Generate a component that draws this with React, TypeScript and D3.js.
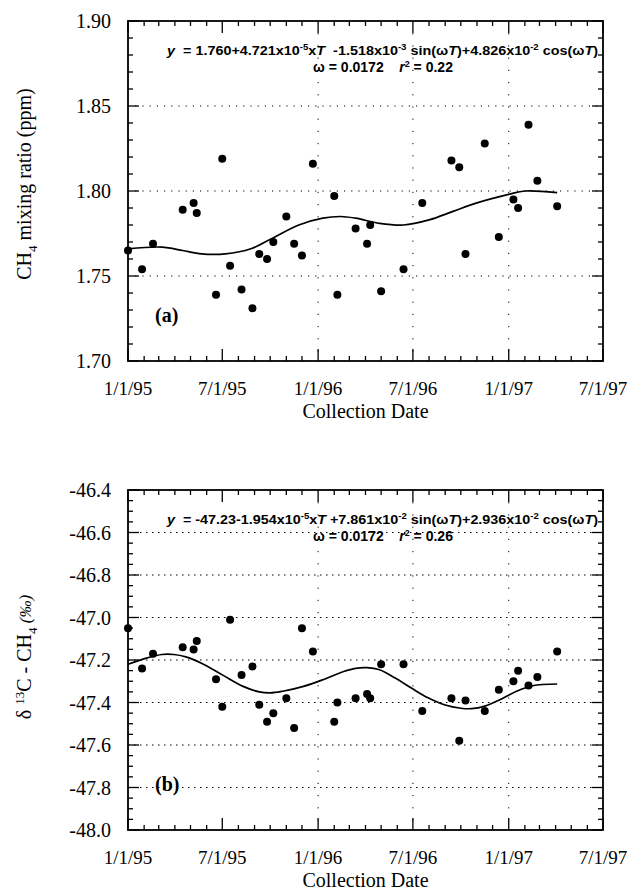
import React from "react";
import * as d3 from "d3";

const width = 634;
const height = 890;
const left = 128;
const right = 603;

// collection dates shared by both panels
const sampleDates = [
  "1995-01-01", "1995-01-28", "1995-02-18", "1995-04-16", "1995-05-07", "1995-05-13",
  "1995-06-19", "1995-07-01", "1995-07-16", "1995-08-07", "1995-08-28", "1995-09-10",
  "1995-09-25", "1995-10-07", "1995-11-01", "1995-11-16", "1995-12-01", "1995-12-22",
  "1996-02-01", "1996-02-07", "1996-03-13", "1996-04-04", "1996-04-10", "1996-05-01",
  "1996-06-13", "1996-07-19", "1996-09-13", "1996-09-28", "1996-10-10", "1996-11-16",
  "1996-12-13", "1997-01-10", "1997-01-19", "1997-02-08", "1997-02-25", "1997-04-04"
];

const ch4Values = [
  1.765, 1.754, 1.769, 1.789, 1.793, 1.787,
  1.739, 1.819, 1.756, 1.742, 1.731, 1.763,
  1.760, 1.770, 1.785, 1.769, 1.762, 1.816,
  1.797, 1.739, 1.778, 1.769, 1.780, 1.741,
  1.754, 1.793, 1.818, 1.814, 1.763, 1.828,
  1.773, 1.795, 1.790, 1.839, 1.806, 1.791
];

const d13cValues = [
  -47.05, -47.24, -47.17, -47.14, -47.15, -47.11,
  -47.29, -47.42, -47.01, -47.27, -47.23, -47.41,
  -47.49, -47.45, -47.38, -47.52, -47.05, -47.16,
  -47.49, -47.40, -47.38, -47.36, -47.38, -47.22,
  -47.22, -47.44, -47.38, -47.58, -47.39, -47.44,
  -47.34, -47.30, -47.25, -47.32, -47.28, -47.16
];

// fitted curves
const ch4FitDates = [
  "1995-01-01", "1995-03-07", "1995-04-16", "1995-05-22", "1995-07-07", "1995-08-25",
  "1995-10-10", "1995-11-25", "1996-01-10", "1996-02-13", "1996-03-13", "1996-04-28",
  "1996-06-13", "1996-08-01", "1996-09-16", "1996-11-01", "1997-01-01", "1997-02-01",
  "1997-04-04"
];
const ch4FitValues = [
  1.766, 1.767, 1.765, 1.763, 1.763, 1.766,
  1.773, 1.780, 1.784, 1.785, 1.784, 1.781,
  1.780, 1.783, 1.788, 1.793, 1.798, 1.800,
  1.799
];

const d13cFitDates = [
  "1995-01-01", "1995-02-07", "1995-03-07", "1995-03-30", "1995-04-22", "1995-05-22",
  "1995-07-01", "1995-08-10", "1995-09-10", "1995-10-01", "1995-10-25", "1995-12-04",
  "1996-01-10", "1996-02-19", "1996-03-13", "1996-04-04", "1996-04-28", "1996-05-28",
  "1996-06-28", "1996-07-30", "1996-09-01", "1996-10-01", "1996-10-22", "1996-11-16",
  "1996-12-16", "1997-01-16", "1997-02-16", "1997-04-04"
];
const d13cFitValues = [
  -47.22, -47.19, -47.174, -47.174, -47.185, -47.215,
  -47.27, -47.324, -47.35, -47.355, -47.347, -47.324,
  -47.293, -47.254, -47.239, -47.236, -47.246, -47.285,
  -47.332, -47.378, -47.412, -47.427, -47.429, -47.417,
  -47.386, -47.347, -47.321, -47.313
];

const xTickLabels = ["1/1/95", "7/1/95", "1/1/96", "7/1/96", "1/1/97", "7/1/97"];
const xGridLabels = ["1/1/96", "7/1/96", "1/1/97"];
const ch4Ticks = [1.7, 1.75, 1.8, 1.85, 1.9];
const ch4Grid = [1.75, 1.8, 1.85];
const d13cTicks = [-48.0, -47.8, -47.6, -47.4, -47.2, -47.0, -46.8, -46.6, -46.4];
const d13cGrid = [-47.8, -47.6, -47.4, -47.2, -47.0, -46.8, -46.6];

const parseDay = d3.timeParse("%Y-%m-%d");
const parseTick = d3.timeParse("%m/%d/%y");

const serif = "Liberation Serif, DejaVu Serif, Times New Roman, serif";
const sans = "Liberation Sans, Arial, sans-serif";

// d3.format gives a unicode minus; the figure uses a plain hyphen
const hyphenFmt = (spec) => {
  const f = d3.format(spec);
  return (v) => f(v).replace("\u2212", "-");
};

const x = d3.scaleTime()
  .domain([new Date(1995, 0, 1), new Date(1997, 6, 1)])
  .range([left, right]);

function Panel({ top, bottom, domain, ticks, minorCount, fmt, grid, vals, fitD, fitV, gridDash, eq1, eq2, tag, title }) {
  const y = d3.scaleLinear().domain(domain).range([bottom, top]);
  const minorY = y.ticks(minorCount);
  const minorX = d3.timeMonth.range(x.domain()[0], d3.timeDay.offset(x.domain()[1], 1));
  const majorX = xTickLabels.map(d => parseTick(d));
  const pts = sampleDates.map((d, i) => [parseDay(d), vals[i]]);
  const fit = fitD.map((d, i) => [parseDay(d), fitV[i]]);
  const line = d3.line().x(d => x(d[0])).y(d => y(d[1])).curve(d3.curveCatmullRom.alpha(0.5));

  return (
    <g>
      {/* dotted grid */}
      {grid.map(v => (
        <line key={"gy" + v} x1={left} x2={right} y1={y(v)} y2={y(v)}
          stroke="#000" strokeWidth={1} strokeDasharray={gridDash} />
      ))}
      {xGridLabels.map(l => (
        <line key={"gx" + l} x1={x(parseTick(l))} x2={x(parseTick(l))} y1={top} y2={bottom}
          stroke="#000" strokeWidth={1} strokeDasharray="1.2 11" />
      ))}

      {/* ticks, pointing inward on all four sides */}
      {minorX.map((d, i) => {
        const major = d.getMonth() % 6 === 0;
        const len = major ? 12 : 5;
        return (
          <g key={"tx" + i}>
            <line x1={x(d)} x2={x(d)} y1={bottom} y2={bottom - len} stroke="#000" strokeWidth={1.3} />
            <line x1={x(d)} x2={x(d)} y1={top} y2={top + len} stroke="#000" strokeWidth={1.3} />
          </g>
        );
      })}
      {minorY.map((v, i) => {
        const major = ticks.some(t => Math.abs(t - v) < 1e-6);
        const len = major ? 11 : 5;
        return (
          <g key={"ty" + i}>
            <line x1={left} x2={left + len} y1={y(v)} y2={y(v)} stroke="#000" strokeWidth={1.3} />
            <line x1={right} x2={right - len} y1={y(v)} y2={y(v)} stroke="#000" strokeWidth={1.3} />
          </g>
        );
      })}

      <rect x={left} y={top} width={right - left} height={bottom - top}
        fill="none" stroke="#000" strokeWidth={1.8} />

      {ticks.map(v => (
        <text key={"ly" + v} x={111} y={y(v)} dy="0.35em" textAnchor="end"
          style={{ fontFamily: serif }} fontSize={20}>{fmt(v)}</text>
      ))}
      {majorX.map((d, i) => (
        <text key={"lx" + i} x={x(d)} y={bottom + 34} textAnchor="middle"
          style={{ fontFamily: serif }} fontSize={19}>{xTickLabels[i]}</text>
      ))}
      <text x={(left + right) / 2} y={bottom + 57} textAnchor="middle"
        style={{ fontFamily: serif }} fontSize={20}>Collection Date</text>

      <g transform={`translate(31,${title.cy}) rotate(-90)`}>
        <text textAnchor="middle" style={{ fontFamily: serif }} fontSize={20}>{title.node}</text>
      </g>

      <path d={line(fit)} fill="none" stroke="#000" strokeWidth={1.7} />
      {pts.map((p, i) => (
        <circle key={"p" + i} cx={x(p[0])} cy={y(p[1])} r={4} fill="#000" />
      ))}

      <text x={167} y={top + 34} textLength={431} lengthAdjust="spacingAndGlyphs"
        style={{ fontFamily: sans }} fontWeight="bold" fontSize={13.5}>{eq1}</text>
      <text x={383} y={top + 51} textAnchor="middle"
        style={{ fontFamily: sans }} fontWeight="bold" fontSize={14}>{eq2}</text>

      <text x={155} y={bottom - 39} style={{ fontFamily: serif }} fontWeight="bold" fontSize={20}>{tag}</text>
    </g>
  );
}

const sup = (s) => <tspan dy={-5} fontSize={9}>{s}</tspan>;
const back = (s) => <tspan dy={5}>{s}</tspan>;
const it = (s) => <tspan fontStyle="italic">{s}</tspan>;

export default function App() {
  const eqA1 = (
    <>
      {it("y")}{"\u00a0 = 1.760+4.721x10"}{sup("-5")}{back("x")}{it("T")}{"\u00a0 -1.518x10"}{sup("-3")}
      {back(" sin(\u03c9")}{it("T")}{")+4.826x10"}{sup("-2")}{back(" cos(\u03c9")}{it("T")}{")"}
    </>
  );
  const eqA2 = (
    <>{"\u03c9 = 0.0172\u00a0\u00a0\u00a0 "}{it("r")}{sup("2")}{back(" = 0.22")}</>
  );
  const eqB1 = (
    <>
      {it("y")}{"\u00a0 = -47.23-1.954x10"}{sup("-5")}{back("x")}{it("T")}{" +7.861x10"}{sup("-2")}
      {back(" sin(\u03c9")}{it("T")}{")+2.936x10"}{sup("-2")}{back(" cos(\u03c9")}{it("T")}{")"}
    </>
  );
  const eqB2 = (
    <>{"\u03c9 = 0.0172\u00a0\u00a0\u00a0 "}{it("r")}{sup("2")}{back(" = 0.26")}</>
  );
  const titleA = (
    <>{"CH"}<tspan dy={6} fontSize={13}>4</tspan><tspan dy={-6}>{" mixing ratio (ppm)"}</tspan></>
  );
  const titleB = (
    <>
      {"\u03b4 "}<tspan dy={-7} fontSize={13}>13</tspan><tspan dy={7}>{"C - CH"}</tspan>
      <tspan dy={6} fontSize={13}>4</tspan><tspan dy={-6} fontSize={17} fontStyle="italic">{" (\u2030)"}</tspan>
    </>
  );

  return (
    <svg width={width} height={height} style={{ position: "absolute", left: 0, top: 0, background: "#fff" }}>
      <Panel top={21} bottom={361} domain={[1.7, 1.9]} ticks={ch4Ticks} minorCount={20}
        fmt={hyphenFmt(".2f")} grid={ch4Grid} vals={ch4Values}
        fitD={ch4FitDates} fitV={ch4FitValues} gridDash="1.2 6"
        eq1={eqA1} eq2={eqA2} tag="(a)" title={{ cy: 184, node: titleA }} />
      <Panel top={490} bottom={830} domain={[-48, -46.4]} ticks={d13cTicks} minorCount={32}
        fmt={hyphenFmt(".1f")} grid={d13cGrid} vals={d13cValues}
        fitD={d13cFitDates} fitV={d13cFitValues} gridDash="1.5 4.5"
        eq1={eqB1} eq2={eqB2} tag="(b)" title={{ cy: 657, node: titleB }} />
    </svg>
  );
}
